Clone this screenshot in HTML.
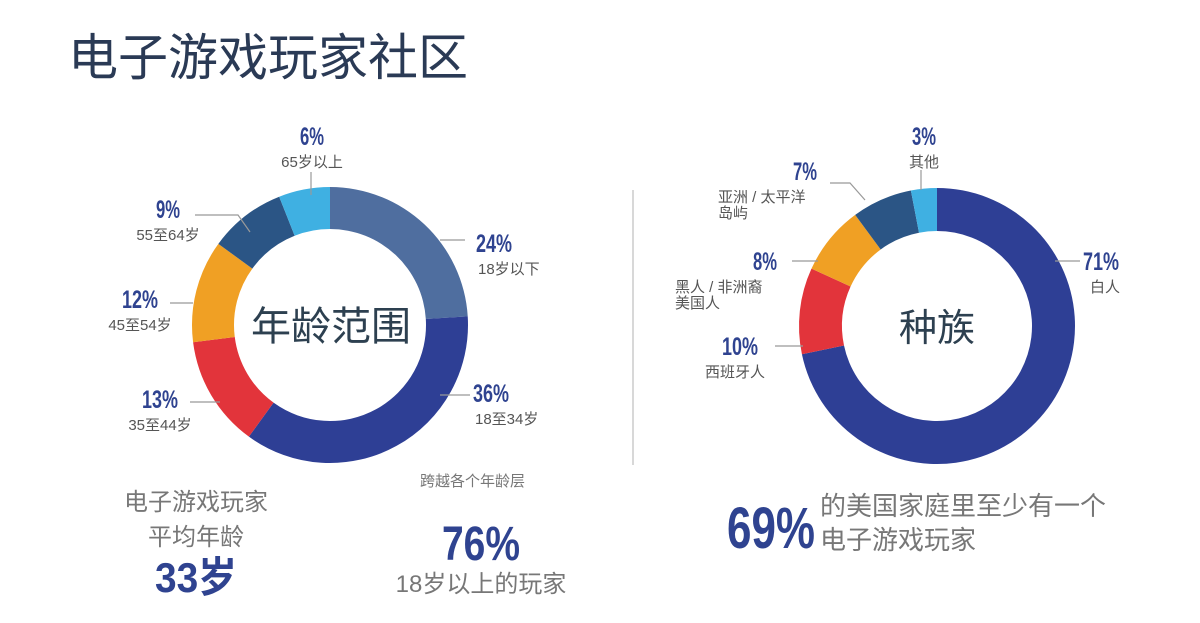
<!DOCTYPE html>
<html><head><meta charset="utf-8">
<style>
html,body{margin:0;padding:0;background:#fff;width:1200px;height:623px;overflow:hidden}
svg text{font-family:"Liberation Sans","Noto Sans CJK SC",sans-serif}
.num{font-weight:bold;fill:#2f4390}
.lbl{fill:#555;font-size:15px}
</style></head>
<body>
<svg id="s" width="1200" height="623" viewBox="0 0 1200 623">
<text x="68" y="75" font-size="50" fill="#2a3a55">电子游戏玩家社区</text>
<line x1="633" y1="190" x2="633" y2="465" stroke="#ccc" stroke-width="1.5"/>
<g id="ageChart"></g>
<g id="raceChart"></g>
<text x="331" y="340" font-size="40" fill="#2d4050" text-anchor="middle">年龄范围</text>
<text x="937" y="341" font-size="38" fill="#2d4050" text-anchor="middle">种族</text>
<text x="420" y="486" font-size="15" fill="#777">跨越各个年龄层</text>
<text x="196" y="510" font-size="24" fill="#777" text-anchor="middle">电子游戏玩家</text>
<text x="196" y="545" font-size="24" fill="#777" text-anchor="middle">平均年龄</text>
<text x="196" y="592" font-size="42" class="num" text-anchor="middle" textLength="82" lengthAdjust="spacingAndGlyphs">33岁</text>
<text x="481" y="560" font-size="48" class="num" text-anchor="middle" textLength="78" lengthAdjust="spacingAndGlyphs">76%</text>
<text x="481" y="592" font-size="24" fill="#777" text-anchor="middle">18岁以上的玩家</text>
<text x="727" y="548" font-size="58" class="num" textLength="88" lengthAdjust="spacingAndGlyphs">69%</text>
<text x="820" y="515" font-size="26" fill="#777">的美国家庭里至少有一个</text>
<text x="820" y="549" font-size="26" fill="#777">电子游戏玩家</text>
</svg>
<script>
const ageValues=[24,36,13,12,9,6];
const ageColors=["#4f6e9f","#2e3f95","#e2343b","#f0a024","#2b5585","#3fb0e2"];
const agePcts=["24%","36%","13%","12%","9%","6%"];
const ageLabels=[["18岁以下"],["18至34岁"],["35至44岁"],["45至54岁"],["55至64岁"],["65岁以上"]];
const ageLabelPos=[[476,252,"start"],[473,402,"start"],[160,408,"middle"],[140,308,"middle"],[168,218,"middle"],[312,145,"middle"]];
const ageLeader=[[[465,240],[440,240]],[[470,395],[440,395]],[[190,402],[220,402]],[[170,303],[193,303]],[[195,215],[238,215],[250,232]],[[311,172],[311,195]]];
const raceValues=[71,10,8,7,3];
const raceColors=["#2e3f95","#e2343b","#f0a024","#2b5585","#3fb0e2"];
const racePcts=["71%","10%","8%","7%","3%"];
const raceLabels=[["白人"],["西班牙人"],["黑人 / 非洲裔","美国人"],["亚洲 / 太平洋","岛屿"],["其他"]];
const raceLabelPos=[[1083,270,"start"],[740,355,"middle"],[765,270,"middle"],[805,180,"middle"],[924,145,"middle"]];
const raceSubPos=[[1090,"start"],[735,"middle"],[675,"start"],[718,"start"],[924,"middle"]];
const raceLeader=[[[1080,261],[1055,261]],[[775,346],[803,346]],[[792,261],[818,261]],[[830,183],[850,183],[865,200]],[[921,170],[921,190]]];
const NS="http://www.w3.org/2000/svg";
const svg=document.getElementById('s');
function pt(cx,cy,r,a){return [cx+r*Math.sin(a),cy-r*Math.cos(a)];}
function donut(g,vals,cols,cx,cy,ro,ri,name){
  const tot=vals.reduce((a,b)=>a+b,0);let a0=0;
  vals.forEach((v,i)=>{
    const a1=a0+v/tot*2*Math.PI;const lg=(a1-a0)>Math.PI?1:0;
    const p1=pt(cx,cy,ro,a0),p2=pt(cx,cy,ro,a1),p3=pt(cx,cy,ri,a1),p4=pt(cx,cy,ri,a0);
    const p=document.createElementNS(NS,'path');
    p.setAttribute('d',`M${p1}A${ro},${ro} 0 ${lg} 1 ${p2}L${p3}A${ri},${ri} 0 ${lg} 0 ${p4}Z`);
    p.setAttribute('fill',cols[i]);
    
    
    g.appendChild(p);a0=a1;
  });
}
function addText(g,x,y,txt,cls,size,anchor,name,len){
  const t=document.createElementNS(NS,'text');
  t.setAttribute('x',x);t.setAttribute('y',y);t.setAttribute('text-anchor',anchor);
  t.setAttribute('font-size',size);t.setAttribute('class',cls);
  if(len){t.setAttribute('textLength',len);t.setAttribute('lengthAdjust','spacingAndGlyphs');}
  t.textContent=txt;
  
  
  g.appendChild(t);
}
function leader(g,pts){
  const l=document.createElementNS(NS,'polyline');
  l.setAttribute('points',pts.map(p=>p.join(',')).join(' '));
  l.setAttribute('fill','none');l.setAttribute('stroke','#999');l.setAttribute('stroke-width','1.2');
  
  
  g.appendChild(l);
}
const ag=document.getElementById('ageChart');
donut(ag,ageValues,ageColors,330,325,138,96,'age');
ageValues.forEach((v,i)=>{
  const [x,y,an]=ageLabelPos[i];
  leader(ag,ageLeader[i]);
  addText(ag,x,y,agePcts[i],'num',25,an,'age-percent-label',agePcts[i].length*12);
  const sx=an==='middle'?x:x+2;
  addText(ag,sx,y+22,ageLabels[i][0],'lbl',15,an,'age-group-label');
});
const rg=document.getElementById('raceChart');
donut(rg,raceValues,raceColors,937,326,138,95,'race');
raceValues.forEach((v,i)=>{
  const [x,y,an]=raceLabelPos[i];
  leader(rg,raceLeader[i]);
  addText(rg,x,y,racePcts[i],'num',25,an,'race-percent-label',racePcts[i].length*12);
  const [sx,sa]=raceSubPos[i];
  raceLabels[i].forEach((s,j)=>addText(rg,sx,y+22+j*16,s,'lbl',15,sa,'race-group-label'));
});
</script>
</body></html>
